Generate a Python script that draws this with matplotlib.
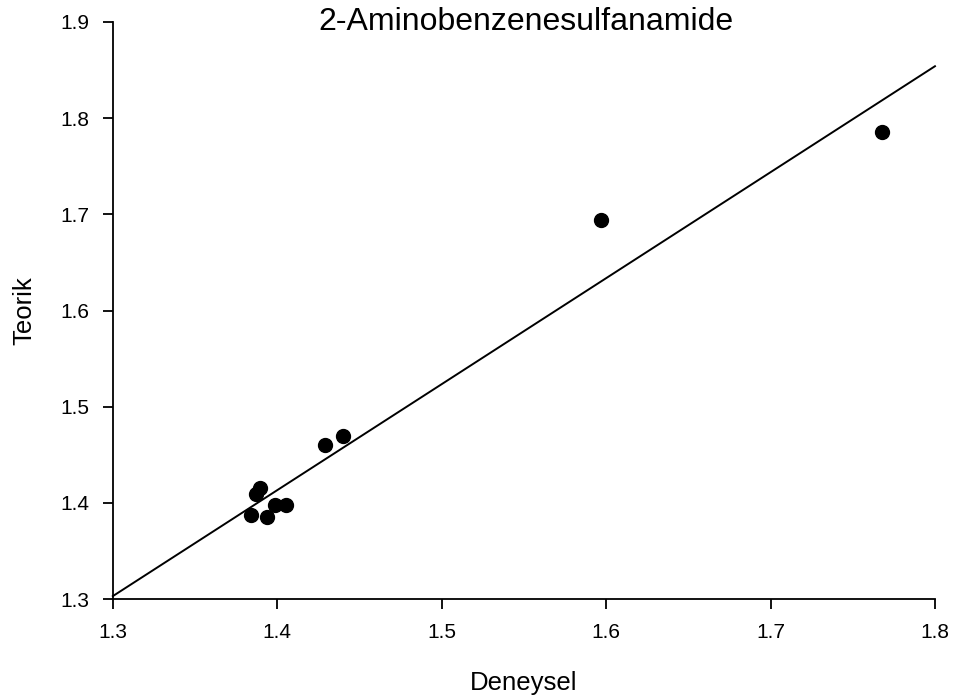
import numpy as np
import matplotlib.pyplot as plt

plt.rcParams['font.family'] = ['Liberation Sans', 'DejaVu Sans']

# Deneysel vs teorik degerler
deneysel = [1.384, 1.3935, 1.3985, 1.4056, 1.387, 1.3894, 1.429, 1.440, 1.597, 1.768]
teorik = [1.387, 1.385, 1.398, 1.398, 1.409, 1.415, 1.460, 1.4695, 1.694, 1.786]

# regresyon dogrusu
fit_slope = 1.102
fit_intercept = -0.1296
fit_x = [1.3, 1.8]

fig = plt.figure(figsize=(9.56, 6.98), dpi=100)
ax = fig.add_axes([0.118, 0.1418, 0.860, 0.8267])

x_line = np.array(fit_x)
ax.plot(x_line, fit_slope * x_line + fit_intercept, color='black', lw=1.4,
        clip_on=False)
ax.plot(deneysel, teorik, 'o', color='black', markersize=10)

ax.set_xlim(1.3, 1.8)
ax.set_ylim(1.3, 1.9)
ax.set_xticks([1.3, 1.4, 1.5, 1.6, 1.7, 1.8])
ax.set_yticks([1.3, 1.4, 1.5, 1.6, 1.7, 1.8, 1.9])
ax.spines['top'].set_visible(False)
ax.spines['right'].set_visible(False)
for s in ['left', 'bottom']:
    ax.spines[s].set_linewidth(1.3)
ax.tick_params(direction='out', length=7.5, width=1.3, labelsize=15, pad=9.5)

ax.set_xlabel('Deneysel', fontsize=18.5)
ax.set_ylabel('Teorik', fontsize=18.5)
ax.xaxis.set_label_coords(0.5, -0.1456)
ax.xaxis.label.set_va('center')
ax.yaxis.set_label_coords(-0.1075, 0.5)
ax.yaxis.label.set_va('center')
ax.text(0.503, 1.0, '2-Aminobenzenesulfanamide', transform=ax.transAxes,
        ha='center', va='center', fontsize=23)

fig.savefig('out.png', dpi=100)
